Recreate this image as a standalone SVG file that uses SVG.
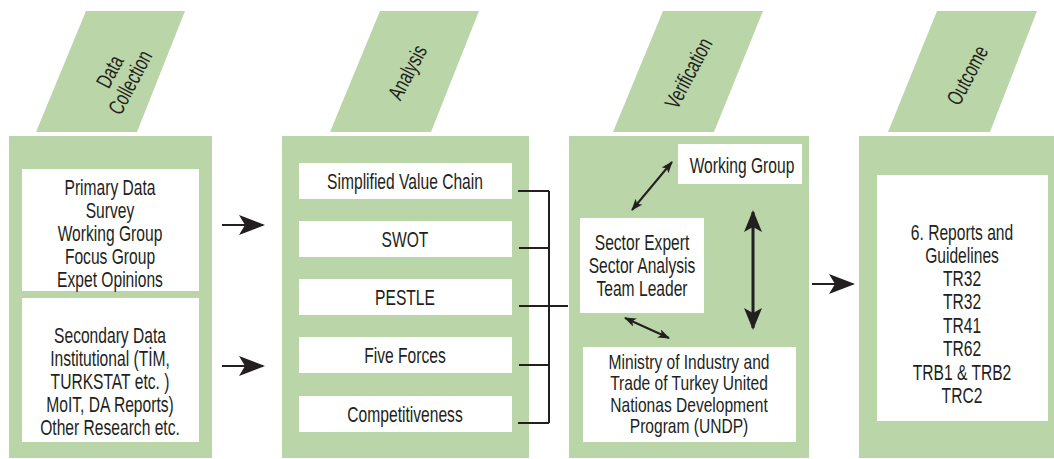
<svg xmlns="http://www.w3.org/2000/svg" width="1054" height="459" viewBox="0 0 1054 459">
<defs>
<style>
.panel{fill:#bad6a9}
.box{fill:#ffffff}
.t{font-family:"Liberation Sans",Arial,sans-serif;font-size:22px;fill:#231f20;text-anchor:middle}
.ln{stroke:#231f20;fill:none}
</style>
<marker id="big" viewBox="0 0 26 20" refX="24" refY="10" markerWidth="26" markerHeight="20" markerUnits="userSpaceOnUse" orient="auto"><path d="M0,0 L26,10 L0,20 L6,10 z" fill="#231f20"/></marker>
<marker id="med" viewBox="0 0 22 18" refX="20" refY="9" markerWidth="22" markerHeight="18" markerUnits="userSpaceOnUse" orient="auto-start-reverse"><path d="M0,0 L22,9 L0,18 L5,9 z" fill="#231f20"/></marker>
<marker id="sm" viewBox="0 0 12 9" refX="11" refY="4.5" markerWidth="12" markerHeight="9" markerUnits="userSpaceOnUse" orient="auto-start-reverse"><path d="M0,0 L12,4.5 L0,9 L3,4.5 z" fill="#231f20"/></marker>
</defs>
<rect width="1054" height="459" fill="#ffffff"/>

<g id="data-collection">
<polygon class="panel" points="86,11 185,11 137,132 36,132"/>
<text class="t" transform="translate(120,77) rotate(-62) scale(0.71,1)"><tspan x="0" y="-4">Data</tspan><tspan x="0" y="19">Collection</tspan></text>
<rect class="panel" x="9" y="136" width="203" height="322"/>
<rect class="box" x="22" y="169" width="177" height="122"/>
<text class="t" transform="matrix(0.71,0,0,1,110,0)"><tspan x="0" y="195">Primary Data</tspan><tspan x="0" y="218">Survey</tspan><tspan x="0" y="241">Working Group</tspan><tspan x="0" y="264">Focus Group</tspan><tspan x="0" y="287">Expet Opinions</tspan></text>
<rect class="box" x="22" y="298" width="177" height="144"/>
<text class="t" transform="matrix(0.71,0,0,1,110,0)"><tspan x="0" y="343">Secondary Data</tspan><tspan x="0" y="366">Institutional (TİM,</tspan><tspan x="0" y="389">TURKSTAT etc. )</tspan><tspan x="0" y="412">MoIT, DA Reports)</tspan><tspan x="0" y="435">Other Research etc.</tspan></text>
</g>

<g id="analysis">
<polygon class="panel" points="380,11 479,11 431,132 330,132"/>
<text class="t" transform="translate(407,72) rotate(-62) scale(0.71,1)" y="8">Analysis</text>
<rect class="panel" x="282" y="136" width="247" height="322"/>
<rect class="box" x="299" y="163" width="213" height="36"/>
<text class="t" transform="matrix(0.71,0,0,1,405,0)" x="0" y="189">Simplified Value Chain</text>
<rect class="box" x="299" y="221" width="213" height="36"/>
<text class="t" transform="matrix(0.71,0,0,1,405,0)" x="0" y="247">SWOT</text>
<rect class="box" x="299" y="279" width="213" height="36"/>
<text class="t" transform="matrix(0.71,0,0,1,405,0)" x="0" y="305">PESTLE</text>
<rect class="box" x="299" y="337" width="213" height="36"/>
<text class="t" transform="matrix(0.71,0,0,1,405,0)" x="0" y="363">Five Forces</text>
<rect class="box" x="299" y="396" width="213" height="36"/>
<text class="t" transform="matrix(0.71,0,0,1,405,0)" x="0" y="422">Competitiveness</text>
</g>

<g id="verification">
<polygon class="panel" points="663,11 763,11 714,132 613,132"/>
<text class="t" transform="translate(688,73) rotate(-62) scale(0.71,1)" y="8">Verification</text>
<rect class="panel" x="569" y="136" width="240" height="322"/>
<rect class="box" x="678" y="144" width="124" height="40"/>
<text class="t" transform="matrix(0.71,0,0,1,742,0)" x="0" y="173">Working Group</text>
<rect class="box" x="580" y="218" width="124" height="95"/>
<text class="t" transform="matrix(0.71,0,0,1,642,0)"><tspan x="0" y="250">Sector Expert</tspan><tspan x="0" y="273">Sector Analysis</tspan><tspan x="0" y="296">Team Leader</tspan></text>
<rect class="box" x="583" y="347" width="213" height="95"/>
<text class="t" style="font-size:20.5px" transform="matrix(0.76,0,0,1,689,0)"><tspan x="0" y="369">Ministry of Industry and</tspan><tspan x="0" y="390.5">Trade of Turkey United</tspan><tspan x="0" y="412">Nationas Development</tspan><tspan x="0" y="433.5">Program (UNDP)</tspan></text>
</g>

<g id="outcome">
<polygon class="panel" points="937,11 1037,11 990,132 888,132"/>
<text class="t" transform="translate(967,75) rotate(-62) scale(0.71,1)" y="8">Outcome</text>
<rect class="panel" x="859" y="136" width="195" height="322"/>
<rect class="box" x="877" y="175" width="171" height="246"/>
<text class="t" transform="matrix(0.71,0,0,1,962,0)"><tspan x="0" y="240">6. Reports and</tspan><tspan x="0" y="263">Guidelines</tspan><tspan x="0" y="286">TR32</tspan><tspan x="0" y="309">TR32</tspan><tspan x="0" y="333">TR41</tspan><tspan x="0" y="356">TR62</tspan><tspan x="0" y="380">TRB1 &amp; TRB2</tspan><tspan x="0" y="403">TRC2</tspan></text>
</g>

<g id="connectors">
<line class="ln" x1="222" y1="225" x2="263" y2="225" stroke-width="2" marker-end="url(#big)"/>
<line class="ln" x1="222" y1="366" x2="263" y2="366" stroke-width="2" marker-end="url(#big)"/>
<path class="ln" stroke-width="2" d="M518,191 H549 M519,248 H549 M519,306 H568 M519,365 H549 M518,423 H549 M549,191 V423"/>
<line class="ln" x1="812" y1="284" x2="853" y2="284" stroke-width="2" marker-end="url(#big)"/>
<line class="ln" x1="632" y1="210" x2="672" y2="162" stroke-width="2" marker-start="url(#sm)" marker-end="url(#sm)"/>
<line class="ln" x1="625" y1="318" x2="669" y2="338" stroke-width="2" marker-start="url(#sm)" marker-end="url(#sm)"/>
<line class="ln" x1="753" y1="212" x2="753" y2="328" stroke-width="3" marker-start="url(#med)" marker-end="url(#med)"/>
</g>
</svg>
